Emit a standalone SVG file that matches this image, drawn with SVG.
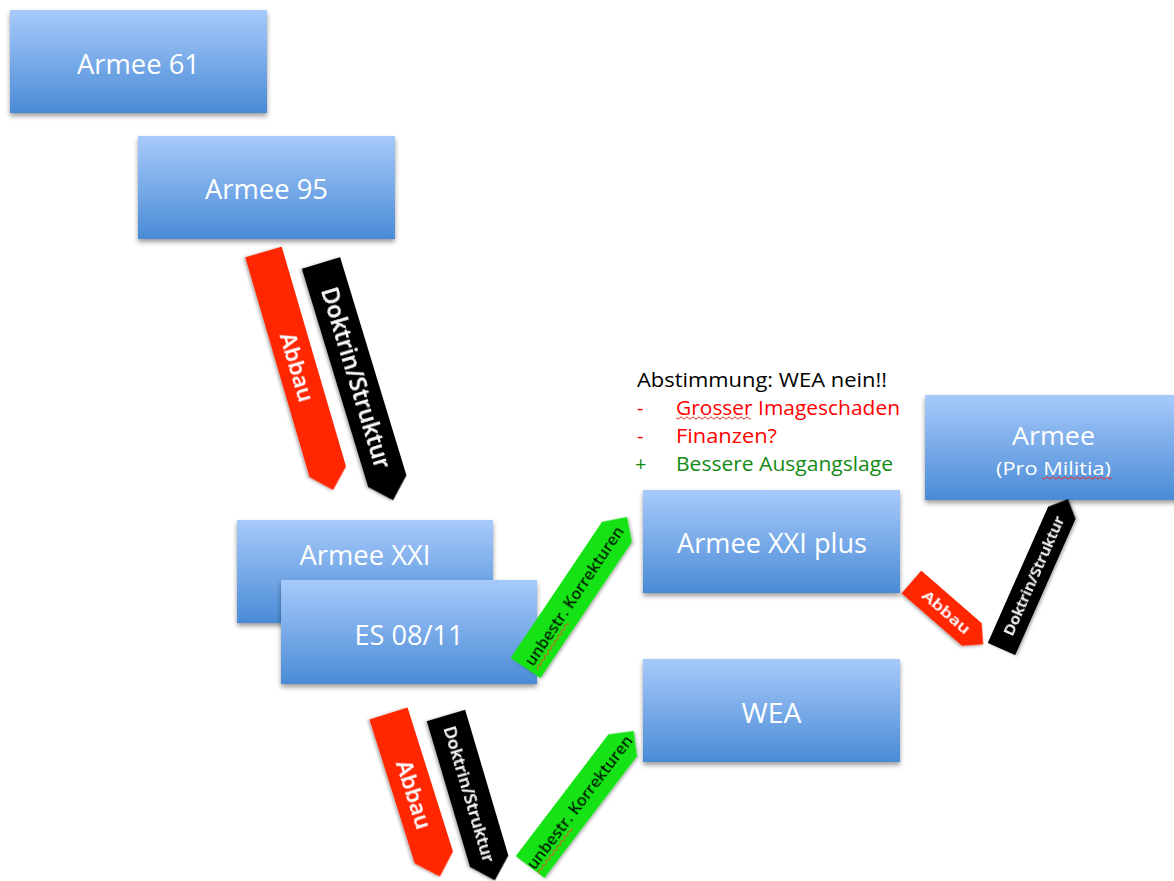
<svg xmlns="http://www.w3.org/2000/svg" width="1174" height="881" viewBox="0 0 1174 881">
<defs>
<linearGradient id="bg" x1="0" y1="0" x2="0" y2="1">
<stop offset="0" stop-color="#a7cafb"/>
<stop offset="1" stop-color="#4a8bd6"/>
</linearGradient>
<filter id="sh" x="-10%" y="-10%" width="120%" height="135%">
<feDropShadow dx="0" dy="3" stdDeviation="2.5" flood-color="#000" flood-opacity="0.4"/>
</filter>
<filter id="ash" x="-20%" y="-30%" width="140%" height="160%">
<feDropShadow dx="0" dy="2" stdDeviation="1.5" flood-color="#000" flood-opacity="0.3"/>
</filter>
<pattern id="sq" width="6" height="4" patternUnits="userSpaceOnUse">
<path d="M0 3.2 L3 0.8 L6 3.2" fill="none" stroke="#e3312a" stroke-width="1"/>
</pattern>
</defs>
<style>
.box{fill:url(#bg);filter:url(#sh)}
.lbl{font-family:'Open Sans','Liberation Sans',sans-serif;font-weight:500;fill:#fff;text-anchor:middle}
.note{font-family:'Open Sans','Liberation Sans',sans-serif;font-weight:500;font-size:20px}
.red{fill:#ff2600}
.blk{fill:#000}
.grn{fill:#12e312}
.arr{filter:url(#ash)}
.at{font-family:'Open Sans','Liberation Sans',sans-serif;font-weight:600;text-anchor:middle}
.sqz{fill:url(#sq)}
</style>

<g id="armee61">
<rect class="box" x="10" y="10" width="257" height="103"/>
<text class="lbl" x="138.5" y="74" font-size="28" textLength="123" lengthAdjust="spacingAndGlyphs">Armee 61</text>
</g>
<g id="armee95">
<rect class="box" x="138" y="136" width="257" height="103"/>
<text class="lbl" x="266.5" y="199" font-size="28" textLength="123" lengthAdjust="spacingAndGlyphs">Armee 95</text>
</g>
<g id="armeexxi">
<rect class="box" x="237" y="520" width="256" height="103"/>
<text class="lbl" x="365" y="565" font-size="28" textLength="131" lengthAdjust="spacingAndGlyphs">Armee XXI</text>
</g>
<g id="es0811">
<rect class="box" x="281" y="580" width="256" height="104"/>
<text class="lbl" x="409" y="645" font-size="28" textLength="109" lengthAdjust="spacingAndGlyphs">ES 08/11</text>
</g>
<g id="armeexxiplus">
<rect class="box" x="643" y="490" width="257" height="103"/>
<text class="lbl" x="772" y="553" font-size="28" textLength="190" lengthAdjust="spacingAndGlyphs">Armee XXI plus</text>
</g>
<g id="wea">
<rect class="box" x="643" y="659" width="257" height="103"/>
<text class="lbl" x="771.5" y="723" font-size="28" textLength="60" lengthAdjust="spacingAndGlyphs">WEA</text>
</g>
<g id="armeepromilitia">
<rect class="box" x="925" y="395" width="257" height="105"/>
<text class="lbl" x="1053.5" y="445" font-size="26" textLength="83" lengthAdjust="spacingAndGlyphs">Armee</text>
<text class="lbl" x="1053.5" y="475" font-size="19" textLength="115" lengthAdjust="spacingAndGlyphs">(Pro Militia)</text>
<rect class="sqz" x="1042" y="476" width="70" height="4"/>
</g>

<g id="abstimmung">
<text class="note" x="637" y="387" fill="#000" textLength="250" lengthAdjust="spacingAndGlyphs">Abstimmung: WEA nein!!</text>
<text class="note" x="637" y="415" fill="#ff0000">-</text>
<text class="note" x="676" y="415" fill="#ff0000" textLength="224" lengthAdjust="spacingAndGlyphs">Grosser Imageschaden</text>
<rect class="sqz" x="676" y="416" width="75" height="4"/>
<text class="note" x="637" y="443" fill="#ff0000">-</text>
<text class="note" x="676" y="443" fill="#ff0000" textLength="101" lengthAdjust="spacingAndGlyphs">Finanzen?</text>
<text class="note" x="635" y="471" fill="#138a13">+</text>
<text class="note" x="676" y="471" fill="#138a13" textLength="217" lengthAdjust="spacingAndGlyphs">Bessere Ausgangslage</text>
</g>

<g id="connectors">
<g class="arr" transform="translate(263.5,252) rotate(73.7)">
<polygon class="red" points="0,-19 229,-19 248,0 229,19 0,19"/>
<text class="at" x="120" y="8" font-size="22" fill="#fff" textLength="71" lengthAdjust="spacingAndGlyphs">Abbau</text>
</g>
<g class="arr" transform="translate(321,263) rotate(73.1)">
<polygon class="blk" points="0,-20 228,-20 248,0 228,20 0,20"/>
<text class="at" x="120" y="8" font-size="23" fill="#fff" textLength="188" lengthAdjust="spacingAndGlyphs">Doktrin/Struktur</text>
</g>
<g class="arr" transform="translate(388.5,713.5) rotate(72.5)">
<polygon class="red" points="0,-20 151,-20 171,0 151,20 0,20"/>
<text class="at" x="85" y="8" font-size="22" fill="#fff" textLength="71" lengthAdjust="spacingAndGlyphs">Abbau</text>
</g>
<g class="arr" transform="translate(446,715.5) rotate(73.5)">
<polygon class="blk" points="0,-20 152,-20 172,0 152,20 0,20"/>
<text class="at" x="82" y="6" font-size="17" fill="#fff" textLength="141" lengthAdjust="spacingAndGlyphs">Doktrin/Struktur</text>
</g>
<g class="arr" transform="translate(525.5,668) rotate(-56.1)">
<polygon class="grn" points="0,-18 164,-18 182,0 164,18 0,18"/>
<text class="at" x="87" y="6" font-size="17" fill="#000" textLength="164" lengthAdjust="spacingAndGlyphs">unbestr. Korrekturen</text>
<rect class="sqz" x="5" y="8" width="56" height="4"/>
</g>
<g class="arr" transform="translate(530,867) rotate(-52.7)">
<polygon class="grn" points="0,-18 153,-18 171,0 153,18 0,18"/>
<text class="at" x="81.5" y="6" font-size="17" fill="#000" textLength="163" lengthAdjust="spacingAndGlyphs">unbestr. Korrekturen</text>
<rect class="sqz" x="0" y="8" width="56" height="4"/>
</g>
<g class="arr" transform="translate(911.5,582) rotate(41)">
<polygon class="red" points="0,-15 80,-15 95,0 80,15 0,15"/>
<text class="at" x="46" y="5" font-size="15" fill="#fff" textLength="58" lengthAdjust="spacingAndGlyphs">Abbau</text>
</g>
<g class="arr" transform="translate(1001.5,649) rotate(-66.1)">
<polygon class="blk" points="0,-15 149,-15 164,0 149,15 0,15"/>
<text class="at" x="80" y="5" font-size="15" fill="#fff" textLength="129" lengthAdjust="spacingAndGlyphs">Doktrin/Struktur</text>
</g>
</g>
</svg>
